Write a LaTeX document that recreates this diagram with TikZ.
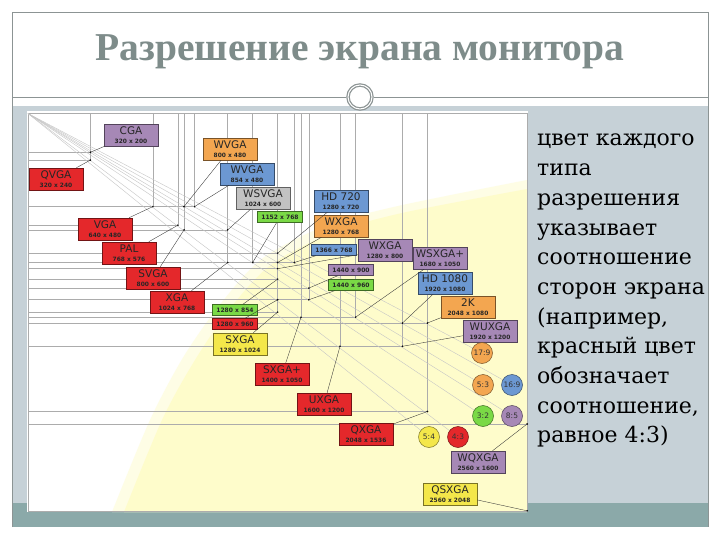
\documentclass[tikz,border=0pt]{standalone}
\usepackage{fontspec}
\setmainfont{Liberation Serif}
\newfontfamily\lblfont{DejaVu Sans}
\newfontfamily\txtfont{DejaVu Serif}
\usetikzlibrary{calc}

\definecolor{khung}{HTML}{8C9494}
\definecolor{nen}{HTML}{C6D1D7}
\definecolor{dai}{HTML}{8BA9A9}
\definecolor{tieude}{HTML}{7E8C8A}
\definecolor{vang}{HTML}{FEFCCB}
\definecolor{redl}{HTML}{E4282B}
\definecolor{purl}{HTML}{A688B6}
\definecolor{oral}{HTML}{F3A650}
\definecolor{blul}{HTML}{6C98D2}
\definecolor{gryl}{HTML}{C2C2C2}
\definecolor{grnl}{HTML}{7AD946}
\definecolor{yell}{HTML}{F4E74A}
\newcommand\rz[1]{{\fontsize{5.9}{6}\selectfont\bfseries #1}}

\begin{document}
\begin{tikzpicture}[x=1pt,y=-1pt,
	box/.style={draw=#1!50!black,fill=#1,line width=.5pt,inner sep=0pt,minimum width=54pt,minimum height=22pt,align=center,text=black!85,font=\lblfont\fontsize{10.5}{8.5}\selectfont},
	sbox/.style={draw=#1!50!black,fill=#1,line width=.5pt,inner sep=0pt,minimum width=45pt,minimum height=11pt,text=black!85,font=\lblfont\bfseries\fontsize{6}{6}\selectfont},
	ratio/.style={circle,draw=#1!50!black,fill=#1,line width=.5pt,inner sep=0pt,minimum size=21pt,text=black!80,font=\lblfont\fontsize{7.5}{8}\selectfont},
	rect/.style={gray!65,line width=.5pt},
	diag/.style={gray!45,line width=.4pt},
	lead/.style={black!80,line width=.35pt}]
	\useasboundingbox[fill=white] (0,0) rectangle (720,540);
	% khung trang
	\fill[nen] (12,106) rectangle (708,503);
	\fill[dai] (12,503) rectangle (708,527);
	\draw[khung,line width=.8pt] (12,527)--(12,12)--(708,12)--(708,527);
	\node[font=\bfseries\fontsize{39.5}{40}\selectfont,text=tieude] (title) at (360,52) {Разрешение экрана монитора};
	\coordinate (trang) at (360,97);
	\draw[khung,line width=.8pt] (12,97)--($(trang)+(-14,0)$) ($(trang)+(14,0)$)--(708,97);
	\draw[khung,line width=3.5pt,fill=white] (trang) circle (12);
	\draw[white,line width=1pt] (trang) circle (12);
	% vung hinh
	\fill[white] (27,111) rectangle (528,512);
	\fill[vang!50] plot[smooth] coordinates {(112,512) (150,420) (184,356) (222,302) (263,258) (325,226) (398,206) (527,180)} -- (527,512) -- cycle;
	\fill[vang] plot[smooth] coordinates {(124,512) (162,420) (195,360) (232,306) (272,264) (332,233) (402,213) (527,189)} -- (527,512) -- cycle;
	\coordinate (o) at (28,113.5);
	\begin{scope}[shift={(28,113.5)},x=.195pt,y=-.194pt]
		\draw[rect] (0,0) rectangle (2560,2048);
		\foreach \w/\h in {320/200,320/240,640/480,768/576,800/600,1024/768,800/480,854/480,1024/600,1152/768,1280/720,1280/768,1366/768,1280/800,1440/900,1440/960,1280/854,1280/960,1280/1024,1400/1050,1600/1200,2048/1536,1680/1050,1920/1080,2048/1080,1920/1200,2560/1600,2560/2048}{
			\draw[rect] (0,\h) -| (\w,0);
			\coordinate (r\w x\h) at (\w,\h);}
	\end{scope}
	% ti le
	\coordinate (c179) at (482,353);
	\coordinate (c53) at (483,385);
	\coordinate (c169) at (512,385);
	\coordinate (c32) at (483,416);
	\coordinate (c85) at (512,416);
	\coordinate (c54) at (429,437);
	\coordinate (c43) at (458,437);
	\foreach \c in {c179,c53,c169,c32,c85,c54,c43}
		\draw[diag] (o)--(\c);
	\foreach \w/\h in {320/200,320/240,640/480,768/576,800/600,1024/768,800/480,854/480,1024/600,1152/768,1280/720,1280/768,1366/768,1280/800,1440/900,1440/960,1280/854,1280/960,1280/1024,1400/1050,1600/1200,2048/1536,1680/1050,1920/1080,2048/1080,1920/1200,2560/1600,2560/2048}
		\fill (r\w x\h) circle (.9pt);
	% nhan
	\node[box=purl] (cga) at (131,135) {CGA\\\rz{320 x 200}};
	\node[box=redl] (qvga) at (56,179) {QVGA\\\rz{320 x 240}};
	\node[box=redl] (vga) at (105,229) {VGA\\\rz{640 x 480}};
	\node[box=redl] (pal) at (129,253) {PAL\\\rz{768 x 576}};
	\node[box=redl] (svga) at (153,278) {SVGA\\\rz{800 x 600}};
	\node[box=redl] (xga) at (177,302) {XGA\\\rz{1024 x 768}};
	\node[box=oral] (wvga) at (230,149) {WVGA\\\rz{800 x 480}};
	\node[box=blul] (wvgb) at (247,174) {WVGA\\\rz{854 x 480}};
	\node[box=gryl] (wsvga) at (263,198) {WSVGA\\\rz{1024 x 600}};
	\node[sbox=grnl] (s1152) at (280,217) {1152 x 768};
	\node[box=blul] (hd720) at (341,201) {HD 720\\\rz{1280 x 720}};
	\node[box=oral] (wxga) at (341,226) {WXGA\\\rz{1280 x 768}};
	\node[sbox=blul] (s1366) at (334,250) {1366 x 768};
	\node[box=purl] (wxgb) at (385,250) {WXGA\\\rz{1280 x 800}};
	\node[sbox=purl] (s1440a) at (351,270) {1440 x 900};
	\node[sbox=grnl] (s1440b) at (351,285) {1440 x 960};
	\node[sbox=grnl] (s1280a) at (235,310) {1280 x 854};
	\node[sbox=redl] (s1280b) at (235,324) {1280 x 960};
	\node[box=yell] (sxga) at (240,344) {SXGA\\\rz{1280 x 1024}};
	\node[box=redl] (sxgap) at (282,374) {SXGA+\\\rz{1400 x 1050}};
	\node[box=redl] (uxga) at (324,404) {UXGA\\\rz{1600 x 1200}};
	\node[box=redl] (qxga) at (366,434) {QXGA\\\rz{2048 x 1536}};
	\node[box=purl] (wsxga) at (440,258) {WSXGA+\\\rz{1680 x 1050}};
	\node[box=blul] (hd1080) at (445,283) {HD 1080\\\rz{1920 x 1080}};
	\node[box=oral] (dk) at (468,307) {2K\\\rz{2048 x 1080}};
	\node[box=purl] (wuxga) at (490,331) {WUXGA\\\rz{1920 x 1200}};
	\node[box=purl] (wqxga) at (478,462) {WQXGA\\\rz{2560 x 1600}};
	\node[box=yell] (qsxga) at (450,494) {QSXGA\\\rz{2560 x 2048}};
	\foreach \n/\r in {cga/r320x200,qvga/r320x240,vga/r640x480,pal/r768x576,svga/r800x600,xga/r1024x768,wvga/r800x480,wvgb/r854x480,wsvga/r1024x600,s1152/r1152x768,hd720/r1280x720,wxga/r1280x768,s1366/r1366x768,wxgb/r1280x800,s1440a/r1440x900,s1440b/r1440x960,s1280a/r1280x854,s1280b/r1280x960,sxga/r1280x1024,sxgap/r1400x1050,uxga/r1600x1200,qxga/r2048x1536,wsxga/r1680x1050,hd1080/r1920x1080,dk/r2048x1080,wuxga/r1920x1200,wqxga/r2560x1600,qsxga/r2560x2048}
		\draw[lead] (\n)--(\r);
	\node[ratio=oral] (r179) at (c179) {17:9};
	\node[ratio=oral] (r53) at (c53) {5:3};
	\node[ratio=blul] (r169) at (c169) {16:9};
	\node[ratio=grnl] (r32) at (c32) {3:2};
	\node[ratio=purl] (r85) at (c85) {8:5};
	\node[ratio=yell] (r54) at (c54) {5:4};
	\node[ratio=redl] (r43) at (c43) {4:3};
	% chu thich
	\node[anchor=north west,inner sep=0pt,align=left,font=\txtfont\fontsize{22}{29.7}\selectfont] (mota) at (537,134) {цвет каждого\\типа\\разрешения\\указывает\\соотношение\\сторон экрана\\(например,\\красный цвет\\обозначает\\соотношение,\\равное 4:3)};
\end{tikzpicture}
\end{document}
